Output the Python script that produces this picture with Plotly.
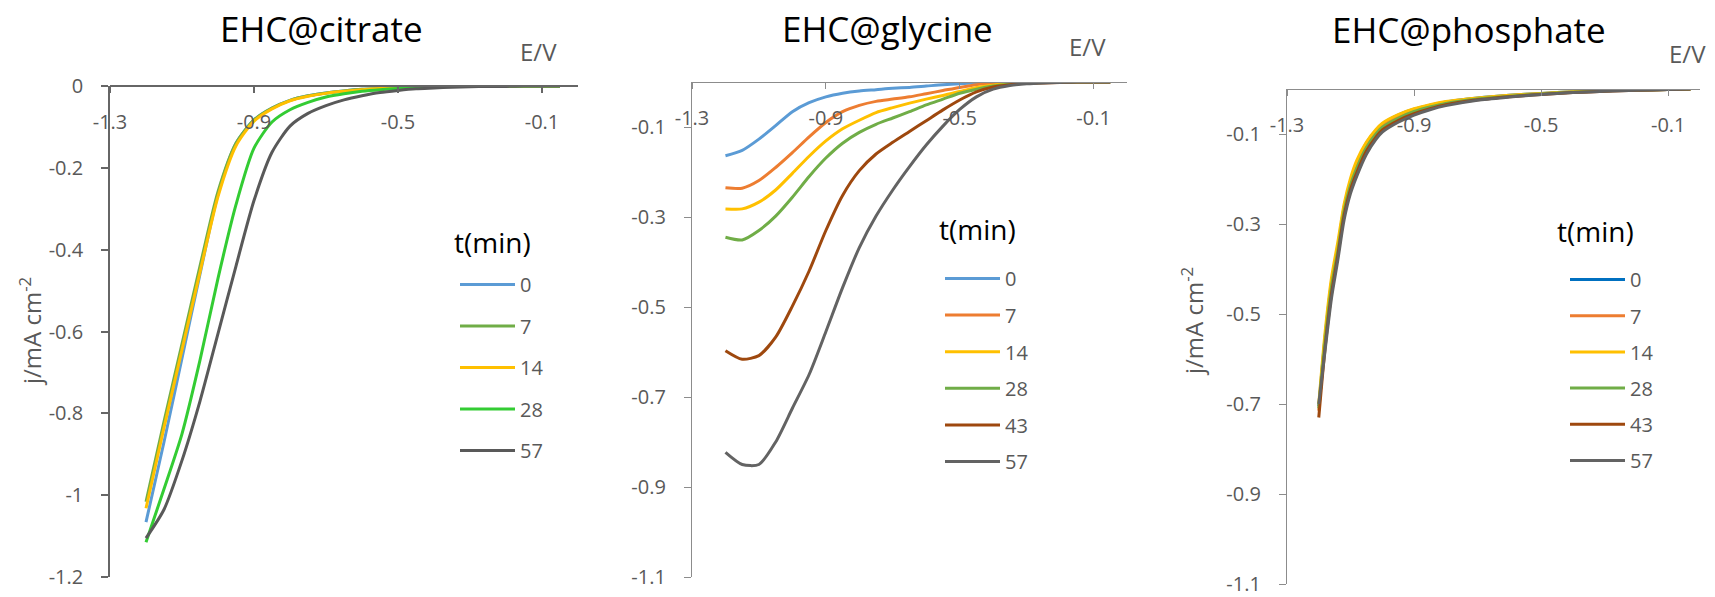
import plotly.graph_objects as go

W, H = 1715, 597
FONT = "Open Sans"
GRAY = "#595959"

# ---------------- data ----------------
series_names = ["0", "7", "14", "28", "43", "57"]

# EHC@citrate
E_cit = [-1.2, -1.15, -1.1, -1.05, -1.0, -0.95, -0.9, -0.85, -0.8, -0.75, -0.7, -0.65,
         -0.6, -0.55, -0.5, -0.45, -0.4, -0.35, -0.3, -0.25, -0.2, -0.15, -0.1, -0.05]
cit_0 = [-1.066, -0.87, -0.665, -0.46, -0.265, -0.14, -0.083, -0.054, -0.035, -0.024, -0.017, -0.012,
         -0.008, -0.006, -0.004, -0.003, -0.002, -0.001, -0.001, 0, 0, 0, 0, 0]
cit_7 = [-1.016, -0.82, -0.63, -0.44, -0.258, -0.14, -0.083, -0.054, -0.035, -0.024, -0.017, -0.012,
         -0.008, -0.006, -0.004, -0.003, -0.002, -0.001, -0.001, 0, 0, 0, 0, 0]
cit_14 = [-1.032, -0.835, -0.645, -0.455, -0.27, -0.146, -0.086, -0.056, -0.036, -0.025, -0.018, -0.013,
          -0.009, -0.006, -0.004, -0.003, -0.002, -0.001, -0.001, 0, 0, 0, 0, 0]
cit_28 = [-1.115, -0.985, -0.85, -0.67, -0.47, -0.29, -0.152, -0.088, -0.058, -0.04, -0.027, -0.019,
          -0.013, -0.009, -0.006, -0.004, -0.002, -0.001, -0.001, 0, 0, 0, 0, 0]
cit_57 = [-1.105, -1.035, -0.915, -0.77, -0.605, -0.44, -0.28, -0.162, -0.098, -0.067, -0.048, -0.034,
          -0.024, -0.016, -0.011, -0.007, -0.005, -0.003, -0.002, -0.001, -0.001, 0, 0, 0]

# EHC@glycine
E_gly = [-1.2, -1.15, -1.1, -1.05, -1.0, -0.95, -0.9, -0.85, -0.8, -0.75, -0.7, -0.65,
         -0.6, -0.55, -0.5, -0.45, -0.4, -0.35, -0.3, -0.25, -0.2, -0.15, -0.1, -0.05]
gly_0 = [-0.164, -0.152, -0.127, -0.097, -0.066, -0.046, -0.033, -0.025, -0.02, -0.017, -0.014, -0.012,
         -0.009, -0.006, -0.004, -0.002, -0.001, 0, 0, 0, 0, 0, 0, 0]
gly_7 = [-0.235, -0.236, -0.219, -0.19, -0.157, -0.122, -0.09, -0.066, -0.052, -0.043, -0.038, -0.033,
         -0.026, -0.019, -0.012, -0.006, -0.003, -0.001, 0, 0, 0, 0, 0, 0]
gly_14 = [-0.282, -0.282, -0.267, -0.24, -0.203, -0.165, -0.131, -0.104, -0.085, -0.068, -0.057, -0.047,
          -0.038, -0.03, -0.021, -0.012, -0.007, -0.004, -0.002, -0.001, -0.001, 0, 0, 0]
gly_28 = [-0.345, -0.351, -0.33, -0.298, -0.256, -0.21, -0.169, -0.136, -0.112, -0.094, -0.08, -0.066,
          -0.051, -0.038, -0.025, -0.016, -0.009, -0.005, -0.002, -0.001, -0.001, 0, 0, 0]
gly_43 = [-0.597, -0.616, -0.608, -0.567, -0.498, -0.42, -0.33, -0.252, -0.197, -0.16, -0.134, -0.11,
          -0.086, -0.062, -0.04, -0.022, -0.011, -0.006, -0.003, -0.002, -0.001, 0, 0, 0]
gly_57 = [-0.823, -0.85, -0.85, -0.8, -0.725, -0.65, -0.555, -0.457, -0.368, -0.298, -0.24, -0.188,
          -0.14, -0.098, -0.061, -0.033, -0.016, -0.008, -0.004, -0.002, -0.001, 0, 0, 0]

# EHC@phosphate
E_pho = [-1.2, -1.18, -1.16, -1.14, -1.12, -1.1, -1.08, -1.05, -1.02, -1.0, -0.95, -0.9,
         -0.85, -0.8, -0.7, -0.6, -0.5, -0.4, -0.3, -0.2, -0.1, -0.03]
pho_0 = [-0.705, -0.55, -0.43, -0.35, -0.262, -0.205, -0.165, -0.12, -0.092, -0.078, -0.058, -0.045,
         -0.036, -0.029, -0.02, -0.014, -0.01, -0.006, -0.004, -0.002, -0.001, 0]
pho_7 = [-0.715, -0.555, -0.435, -0.355, -0.268, -0.21, -0.17, -0.127, -0.098, -0.083, -0.063, -0.049,
         -0.039, -0.031, -0.021, -0.015, -0.011, -0.007, -0.004, -0.002, -0.001, 0]
pho_14 = [-0.70, -0.54, -0.42, -0.34, -0.255, -0.198, -0.158, -0.118, -0.09, -0.076, -0.057, -0.044,
          -0.035, -0.028, -0.02, -0.014, -0.01, -0.006, -0.004, -0.002, -0.001, 0]
pho_28 = [-0.71, -0.56, -0.44, -0.36, -0.27, -0.213, -0.175, -0.13, -0.10, -0.085, -0.065, -0.05,
          -0.04, -0.032, -0.022, -0.016, -0.011, -0.007, -0.004, -0.002, -0.001, 0]
pho_43 = [-0.73, -0.575, -0.455, -0.37, -0.28, -0.223, -0.185, -0.138, -0.107, -0.091, -0.07, -0.055,
          -0.044, -0.035, -0.024, -0.017, -0.012, -0.008, -0.005, -0.003, -0.001, 0]
pho_57 = [-0.70, -0.58, -0.465, -0.38, -0.29, -0.232, -0.193, -0.145, -0.112, -0.096, -0.074, -0.058,
          -0.046, -0.037, -0.025, -0.018, -0.012, -0.008, -0.005, -0.003, -0.001, 0]

# tick labels
x_tickvals = [-1.3, -0.9, -0.5, -0.1]
x_ticktext = ["-1.3", "-0.9", "-0.5", "-0.1"]
y1_tickvals = [0, -0.2, -0.4, -0.6, -0.8, -1.0, -1.2]
y1_ticktext = ["0", "-0.2", "-0.4", "-0.6", "-0.8", "-1", "-1.2"]
y23_tickvals = [-0.1, -0.3, -0.5, -0.7, -0.9, -1.1]
y23_ticktext = ["-0.1", "-0.3", "-0.5", "-0.7", "-0.9", "-1.1"]

# ---------------- styling ----------------
cit_colors = ["#5B9BD5", "#70AD47", "#FFC000", "#33CC33", "#595959"]
gly_colors = ["#5B9BD5", "#ED7D31", "#FFC000", "#70AD47", "#9E480E", "#636363"]
pho_colors = ["#0070C0", "#ED7D31", "#FFC000", "#70AD47", "#9E480E", "#636363"]

panels = [
    dict(E=E_cit, ys=[cit_0, cit_7, cit_14, cit_28, cit_57], names=["0", "7", "14", "28", "57"],
         colors=cit_colors, xa="x", ya="y", leg="legend"),
    dict(E=E_gly, ys=[gly_0, gly_7, gly_14, gly_28, gly_43, gly_57], names=series_names,
         colors=gly_colors, xa="x2", ya="y2", leg="legend2"),
    dict(E=E_pho, ys=[pho_0, pho_7, pho_14, pho_28, pho_43, pho_57], names=series_names,
         colors=pho_colors, xa="x3", ya="y3", leg="legend3"),
]

fig = go.Figure()
for pi, p in enumerate(panels):
    for name, y, c in zip(p["names"], p["ys"], p["colors"]):
        fig.add_trace(go.Scatter(
            x=p["E"], y=y, mode="lines", name=name,
            line=dict(color=c, width=3, shape="spline", smoothing=0.7),
            xaxis=p["xa"], yaxis=p["ya"], legend=p["leg"],
            legendgroup=f"p{pi}_{name}", hoverinfo="skip"))


def px(x):
    return x / W


def py(y):
    return 1 - y / H


def xax(x0, x1, ytop, lc, lw):
    return dict(domain=[px(x0), px(x1)], range=[-1.3, 0],
                anchor="free", position=py(ytop), side="bottom",
                showline=True, linecolor=lc, linewidth=lw,
                ticks="outside", ticklen=6, tickcolor=lc, tickwidth=lw,
                tickvals=x_tickvals, ticktext=x_ticktext, ticklabelstandoff=12,
                ticklabeloverflow="allow",
                tickfont=dict(family=FONT, size=20, color=GRAY),
                showgrid=False, zeroline=False, automargin=False)


def yax(y0, y1, rng, tv, tt, lc, lw):
    return dict(domain=[py(y1), py(y0)], range=rng,
                showline=True, linecolor=lc, linewidth=lw,
                ticks="outside", ticklen=7, tickcolor=lc, tickwidth=lw,
                tickvals=tv, ticktext=tt, ticklabelstandoff=14,
                ticklabeloverflow="allow",
                tickfont=dict(family=FONT, size=20, color=GRAY),
                showgrid=False, zeroline=False, automargin=False)


def legend(x, y, gap):
    return dict(x=px(x), y=py(y), xanchor="left", yanchor="top",
                bgcolor="rgba(0,0,0,0)", borderwidth=0,
                font=dict(family=FONT, size=20, color=GRAY),
                tracegroupgap=gap, itemwidth=55)


layout = dict(
    width=W, height=H, margin=dict(l=0, r=0, t=0, b=0, autoexpand=False),
    paper_bgcolor="white", plot_bgcolor="white",
    font=dict(family=FONT, color=GRAY),
    xaxis=xax(110, 578, 86, "#666666", 1.5),
    yaxis=yax(86, 577, [-1.2, 0], y1_tickvals, y1_ticktext, "#666666", 1.5),
    xaxis2=xax(692, 1127, 82, "#8C8C8C", 1.3),
    yaxis2=yax(82, 577, [-1.1, 0], y23_tickvals, y23_ticktext, "#8C8C8C", 1.3),
    xaxis3=xax(1287, 1700, 89, "#8C8C8C", 1.3),
    yaxis3=yax(89, 584, [-1.1, 0], y23_tickvals, y23_ticktext, "#8C8C8C", 1.3),
    legend=legend(455, 265, 12.5),
    legend2=legend(940, 259, 7.6),
    legend3=legend(1565, 260, 7.2),
    showlegend=True,
)
layout["yaxis"]["anchor"] = "x"
layout["yaxis2"]["anchor"] = "x2"
layout["yaxis3"]["anchor"] = "x3"
fig.update_layout(**layout)

annots = [
    ("EHC@citrate", 321, 29, 35, "#000000", 0),
    ("EHC@glycine", 887, 29, 35, "#000000", 0),
    ("EHC@phosphate", 1469, 30, 35, "#000000", 0),
    ("E/V", 538, 51, 24, GRAY, 0),
    ("E/V", 1087, 47, 24, GRAY, 0),
    ("E/V", 1687, 54, 24, GRAY, 0),
    ("j/mA cm<sup>-2</sup>", 30, 332, 24, GRAY, -90),
    ("j/mA cm<sup>-2</sup>", 1192, 322, 24, GRAY, -90),
    ("t(min)", 492, 242, 28, "#000000", 0),
    ("t(min)", 977, 229, 28, "#000000", 0),
    ("t(min)", 1595, 231, 28, "#000000", 0),
]
for text, x, y, size, color, ang in annots:
    fig.add_annotation(text=text, x=px(x), y=py(y), xref="paper", yref="paper",
                       xanchor="center", yanchor="middle", showarrow=False,
                       textangle=ang, font=dict(family=FONT, size=size, color=color))

fig.write_html("out.html")
